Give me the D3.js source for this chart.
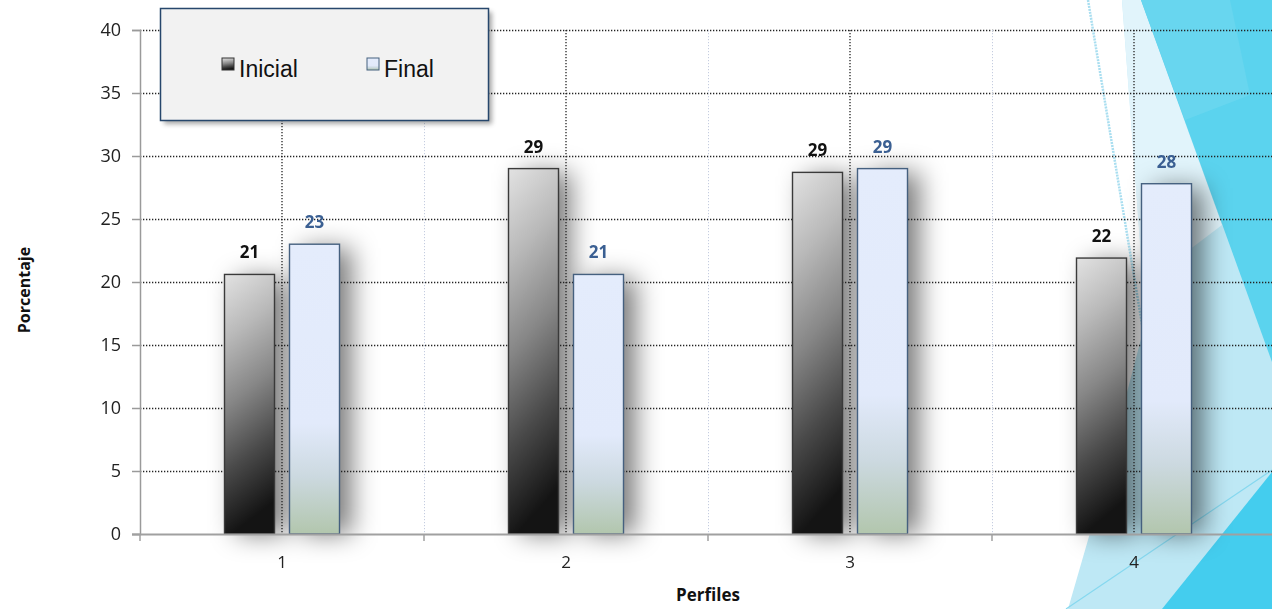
<!DOCTYPE html>
<html>
<head>
<meta charset="utf-8">
<script src="https://cdn.jsdelivr.net/npm/d3@7"></script>
<style>
  html, body { margin: 0; padding: 0; background: #fff; }
  svg { display: block; }
</style>
</head>
<body>
<svg id="chart" width="1272" height="609"></svg>
<script>
// Data
const categories = ["1", "2", "3", "4"];
const seriesNames = ["Inicial", "Final"];
const inicialValues = [20.6, 29.0, 28.7, 21.9];
const finalValues = [23.0, 20.6, 29.0, 27.8];
const yTicks = [0, 5, 10, 15, 20, 25, 30, 35, 40];

const W = 1272, H = 609;
const FONT = "'Open Sans', 'Noto Sans', sans-serif";
const svg = d3.select("#chart");
const defs = svg.append("defs");

// Gradients and filters
const gIni = defs.append("linearGradient").attr("id", "gradIni")
  .attr("x1", 0).attr("y1", 0).attr("x2", 0.15).attr("y2", 1);
[[0, "#e2e2e2"], [0.25, "#b9b9b9"], [0.5, "#878787"], [0.75, "#4a4a4a"], [1, "#141414"]]
  .forEach(([o, c]) => gIni.append("stop").attr("offset", o).attr("stop-color", c));

const gFin = defs.append("linearGradient").attr("id", "gradFin")
  .attr("x1", 0).attr("y1", 0).attr("x2", 0).attr("y2", 1);
[[0, "#e4ecfc"], [0.62, "#e2eafb"], [0.8, "#ccd9e0"], [1, "#b2c6ad"]]
  .forEach(([o, c]) => gFin.append("stop").attr("offset", o).attr("stop-color", c));

const fShadow = defs.append("filter").attr("id", "barShadow")
  .attr("x", "-100%").attr("y", "-20%").attr("width", "300%").attr("height", "140%");
fShadow.append("feGaussianBlur").attr("stdDeviation", 13);

const fLegend = defs.append("filter").attr("id", "legShadow")
  .attr("x", "-10%").attr("y", "-10%").attr("width", "130%").attr("height", "140%");
fLegend.append("feGaussianBlur").attr("stdDeviation", 2.5);

// Scales
const x = d3.scaleBand().domain(categories).range([140, 1276]).paddingInner(0).paddingOuter(0);
const xs = d3.scaleBand().domain(seriesNames).range([-57.5, 57.5]).paddingInner(15 / 65);
const y = d3.scaleLinear().domain([0, 40]).range([534, 30]);

// Decorative facets along the right edge
const deco = svg.append("g");
const facets = [
  { pts: [[1122, 0], [1272, 0], [1272, 609], [1068, 609], [1090, 533], [1146, 320]], fill: "#bee8f5" },
  { pts: [[1122, 0], [1141, 0], [1222, 225], [1143, 285]], fill: "#e1f4fb" },
  { pts: [[1141, 0], [1272, 0], [1272, 362]], fill: "#5bd3ee" },
  { pts: [[1141, 0], [1230, 0], [1250, 95], [1185, 120]], fill: "#68d6ef" },
  { pts: [[1162, 609], [1272, 472], [1272, 609]], fill: "#44cdee" }
];
deco.selectAll("polygon").data(facets).join("polygon")
  .attr("points", d => d.pts.map(p => p.join(",")).join(" "))
  .attr("fill", d => d.fill);
deco.append("line").attr("x1", 1066).attr("y1", 609).attr("x2", 1272).attr("y2", 470)
  .attr("stroke", "#86d8ef").attr("stroke-width", 1.2);
deco.append("line").attr("x1", 1088).attr("y1", 0).attr("x2", 1143).attr("y2", 330)
  .attr("stroke", "#a9def0").attr("stroke-width", 2.5).attr("stroke-dasharray", "2,1");

// Data rows
const rows = categories.map((c, i) => ({ cat: c, values: [
  { key: "Inicial", value: inicialValues[i] },
  { key: "Final", value: finalValues[i] }
]}));
const bx = (c, k) => x(c) + x.bandwidth() / 2 + xs(k);

// Bar shadows
const shadows = svg.append("g").attr("filter", "url(#barShadow)");
rows.forEach(r => r.values.forEach(v => {
  shadows.append("rect")
    .attr("x", bx(r.cat, v.key) + 12).attr("y", y(v.value) + 4)
    .attr("width", xs.bandwidth()).attr("height", y(0) - y(v.value) - 4)
    .attr("fill", "#000").attr("opacity", 0.52);
}));

// Gridlines
const grid = svg.append("g");
grid.selectAll("line.h").data(yTicks.filter(t => t > 0)).join("line")
  .attr("class", "h")
  .attr("x1", 140).attr("x2", W).attr("y1", d => y(d) + 0.5).attr("y2", d => y(d) + 0.5)
  .attr("stroke", "#222").attr("stroke-width", 1.3).attr("stroke-dasharray", "1.3,1.7");
grid.selectAll("line.vc").data(categories).join("line")
  .attr("class", "vc")
  .attr("x1", d => x(d) + x.bandwidth() / 2).attr("x2", d => x(d) + x.bandwidth() / 2)
  .attr("y1", 30).attr("y2", 534)
  .attr("stroke", "#222").attr("stroke-width", 1.3).attr("stroke-dasharray", "1.3,1.7");
grid.selectAll("line.vb").data(categories.slice(1)).join("line")
  .attr("class", "vb")
  .attr("x1", d => x(d) + 0.5).attr("x2", d => x(d) + 0.5)
  .attr("y1", 30).attr("y2", 534)
  .attr("stroke", "#c5cde0").attr("stroke-width", 1).attr("stroke-dasharray", "1.2,1.8");

// Bars
const bars = svg.append("g");
rows.forEach(r => r.values.forEach(v => {
  bars.append("rect")
    .attr("x", bx(r.cat, v.key)).attr("y", y(v.value))
    .attr("width", xs.bandwidth()).attr("height", y(0) - y(v.value))
    .attr("fill", v.key === "Inicial" ? "url(#gradIni)" : "url(#gradFin)")
    .attr("stroke", v.key === "Inicial" ? "#3a3a3a" : "#45607f")
    .attr("stroke-width", 1.4);
}));

// Value labels
const labels = svg.append("g")
  .attr("font-family", FONT)
  .attr("font-weight", "bold").attr("font-size", 17).attr("text-anchor", "middle");
rows.forEach(r => r.values.forEach(v => {
  labels.append("text")
    .attr("x", bx(r.cat, v.key) + xs.bandwidth() / 2)
    .attr("y", y(v.value) - 16)
    .attr("fill", v.key === "Inicial" ? "#111" : "#3a5f92")
    .text(d3.format(".0f")(v.value));
}));

// Axes
const yAxis = svg.append("g").attr("transform", "translate(140,0)")
  .call(d3.axisLeft(y).tickValues(yTicks).tickSize(8).tickPadding(11));
yAxis.select(".domain").attr("stroke", "#9a9a9a").attr("stroke-width", 1.5);
yAxis.selectAll(".tick line").attr("stroke", "#9a9a9a").attr("stroke-width", 1.5);
yAxis.selectAll(".tick text").attr("font-family", FONT)
  .attr("font-size", 18).attr("fill", "#222");

const xAxis = svg.append("g").attr("transform", "translate(0,534)");
xAxis.append("line").attr("x1", 132).attr("x2", W).attr("y1", 0.5).attr("y2", 0.5)
  .attr("stroke", "#a0a0a0").attr("stroke-width", 2);
xAxis.selectAll("line.tk").data(categories).join("line").attr("class", "tk")
  .attr("x1", d => x(d)).attr("x2", d => x(d)).attr("y1", 0).attr("y2", 7)
  .attr("stroke", "#a0a0a0").attr("stroke-width", 1.5);
xAxis.selectAll("text").data(categories).join("text")
  .attr("x", d => x(d) + x.bandwidth() / 2).attr("y", 34)
  .attr("text-anchor", "middle")
  .attr("font-family", FONT).attr("font-size", 17).attr("fill", "#222")
  .text(d => d);

// Axis titles
svg.append("text").attr("transform", "translate(30,290) rotate(-90)")
  .attr("text-anchor", "middle").attr("font-family", FONT)
  .attr("font-weight", "bold").attr("font-size", 16).attr("fill", "#111").text("Porcentaje");
svg.append("text").attr("x", 708).attr("y", 601)
  .attr("text-anchor", "middle").attr("font-family", FONT)
  .attr("font-weight", "bold").attr("font-size", 17).attr("fill", "#111").text("Perfiles");

// Legend
const leg = svg.append("g");
leg.append("rect").attr("x", 164).attr("y", 12).attr("width", 328).attr("height", 112)
  .attr("fill", "#000").attr("opacity", 0.35).attr("filter", "url(#legShadow)");
leg.append("rect").attr("x", 160.5).attr("y", 8.5).attr("width", 328).attr("height", 112)
  .attr("fill", "#f2f2f2").attr("stroke", "#27476c").attr("stroke-width", 1.5);
const legItems = [
  { key: "Inicial", sx: 222, fill: "url(#gradIni)", stroke: "#333" },
  { key: "Final", sx: 367, fill: "url(#gradFin)", stroke: "#45607f" }
];
legItems.forEach(it => {
  leg.append("rect").attr("x", it.sx).attr("y", 58).attr("width", 12).attr("height", 12)
    .attr("fill", it.fill).attr("stroke", it.stroke).attr("stroke-width", 1);
  leg.append("text").attr("x", it.sx + 17).attr("y", 77)
    .attr("font-family", "'Liberation Sans', Arial, sans-serif").attr("font-size", 23)
    .attr("fill", "#111").text(it.key);
});
</script>
</body>
</html>
